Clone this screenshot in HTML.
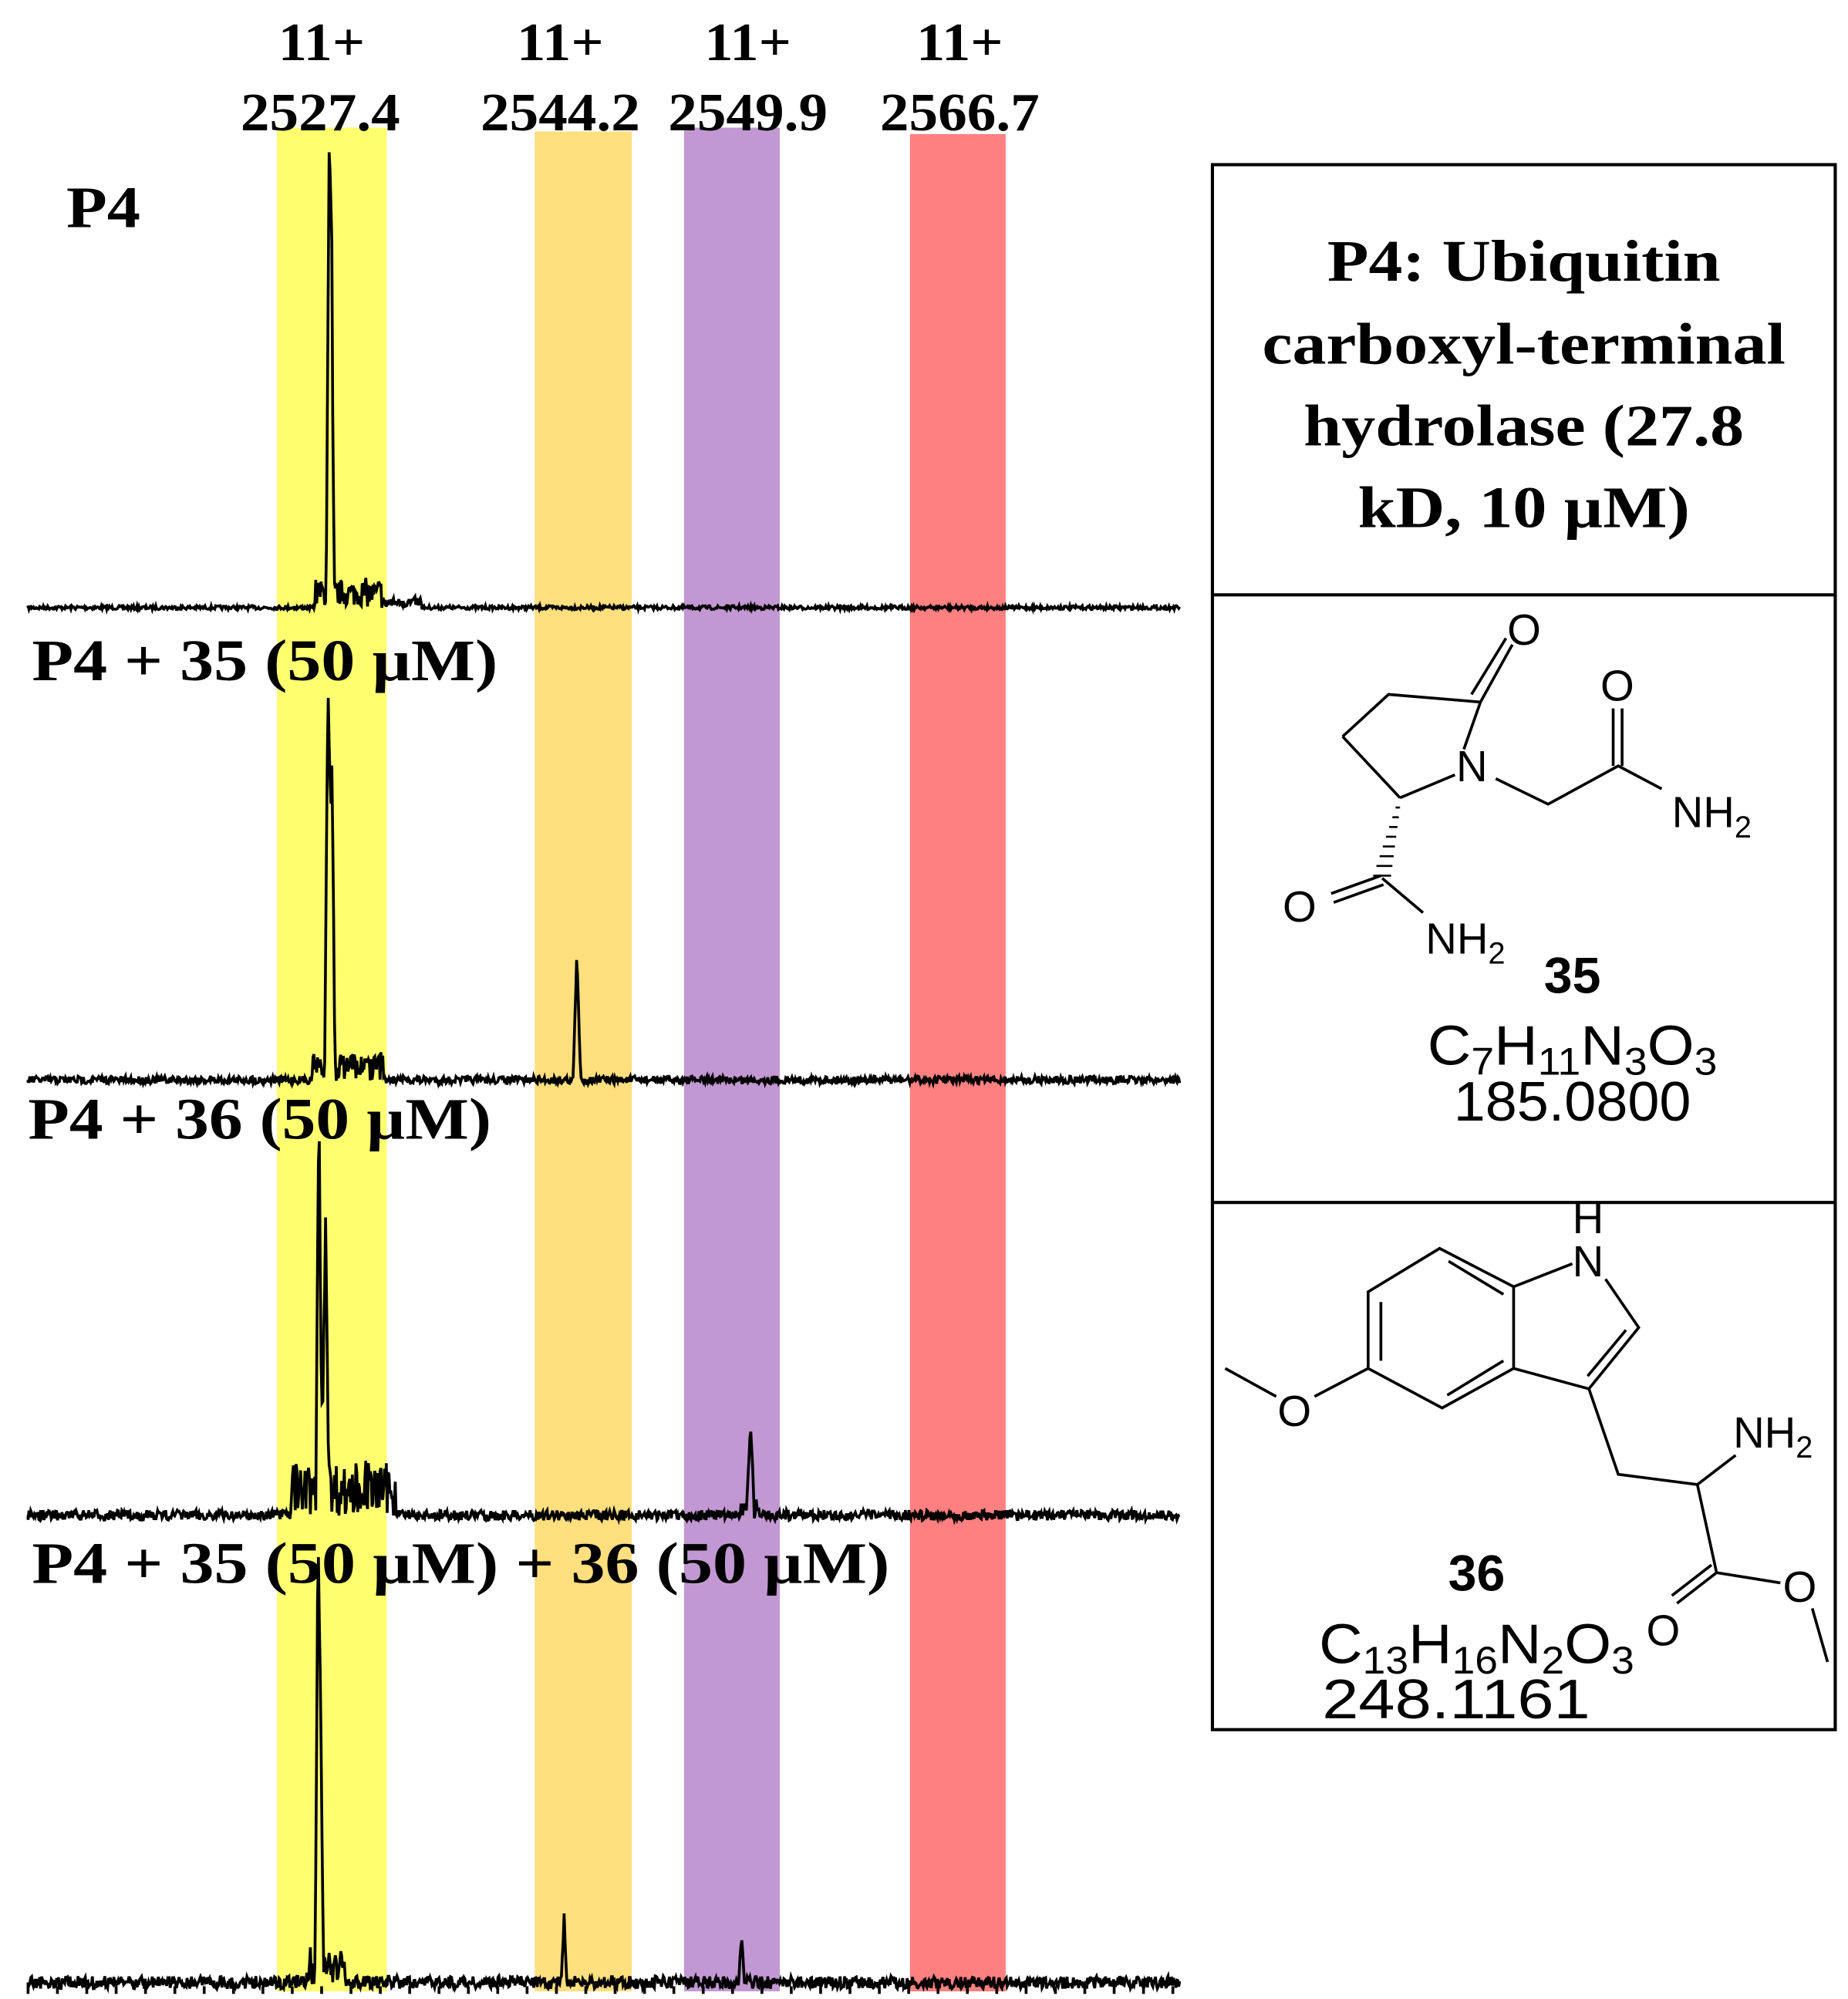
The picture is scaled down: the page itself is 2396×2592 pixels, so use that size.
<!DOCTYPE html>
<html><head><meta charset="utf-8"><style>
html,body{margin:0;padding:0;background:#fff;}
svg{display:block;}
.ax{font-family:"Liberation Serif",serif;font-weight:bold;fill:#000;}
.ch{font-family:"Liberation Sans",sans-serif;fill:#000;}
</style></head><body>
<svg id="s" width="2396" height="2592" viewBox="0 0 1448 1566" preserveAspectRatio="none" xmlns="http://www.w3.org/2000/svg">
<rect x="217" y="100" width="86" height="1460" fill="#ffff70"/>
<rect x="419" y="103" width="76" height="1457" fill="#ffdf7e"/>
<rect x="536" y="100" width="75" height="1460" fill="#c298d2"/>
<rect x="713" y="105" width="75" height="1455" fill="#ff8080"/>
<g class="ax" font-size="42" text-anchor="middle">
<text x="252" y="47" textLength="68" lengthAdjust="spacingAndGlyphs">11+</text><text x="439" y="47" textLength="68" lengthAdjust="spacingAndGlyphs">11+</text><text x="586" y="47" textLength="68" lengthAdjust="spacingAndGlyphs">11+</text><text x="752" y="47" textLength="68" lengthAdjust="spacingAndGlyphs">11+</text>
<text x="251" y="102" textLength="125" lengthAdjust="spacingAndGlyphs">2527.4</text>
<text x="439" y="102" textLength="125" lengthAdjust="spacingAndGlyphs">2544.2</text>
<text x="586" y="102" textLength="125" lengthAdjust="spacingAndGlyphs">2549.9</text>
<text x="752" y="102" textLength="125" lengthAdjust="spacingAndGlyphs">2566.7</text>
</g>
<g id="spec" fill="none" stroke="#000" stroke-width="2.2"></g>
<g class="ax" font-size="46">
<text x="52" y="178" textLength="58" lengthAdjust="spacingAndGlyphs">P4</text>
<text x="25" y="533" textLength="365" lengthAdjust="spacingAndGlyphs">P4 + 35 (50 µM)</text>
<text x="22" y="892" textLength="363" lengthAdjust="spacingAndGlyphs">P4 + 36 (50 µM)</text>
<text x="25" y="1240" textLength="672" lengthAdjust="spacingAndGlyphs">P4 + 35 (50 µM) + 36 (50 µM)</text>
</g>
<g fill="none" stroke="#000" stroke-width="2.5">
<rect x="950" y="129" width="488" height="1226"/>
<line x1="950" y1="466" x2="1438" y2="466"/>
<line x1="950" y1="942" x2="1438" y2="942"/>
</g>
<g class="ax" font-size="46" text-anchor="middle">
<text x="1194" y="220" textLength="308" lengthAdjust="spacingAndGlyphs">P4: Ubiquitin</text>
<text x="1194" y="285" textLength="410" lengthAdjust="spacingAndGlyphs">carboxyl-terminal</text>
<text x="1194" y="349" textLength="345" lengthAdjust="spacingAndGlyphs">hydrolase (27.8</text>
<text x="1194" y="413" textLength="260" lengthAdjust="spacingAndGlyphs">kD, 10 µM)</text>
</g>
<g fill="none" stroke="#000" stroke-width="2.2">
<polyline points="1052,577 1088,544 1160,550"/>
<line x1="1160" y1="550" x2="1147" y2="587"/>
<line x1="1140" y1="607" x2="1097" y2="625"/>
<line x1="1097" y1="625" x2="1052" y2="577"/>
<line x1="1160" y1="550" x2="1185" y2="505"/><line x1="1153" y1="544" x2="1180" y2="500"/>
<polyline points="1172,610 1213,630 1268,600 1302,618"/>
<line x1="1264" y1="600" x2="1264" y2="555"/><line x1="1271" y1="600" x2="1271" y2="555"/>
<line x1="1082" y1="686" x2="1043" y2="700"/><line x1="1084" y1="693" x2="1045" y2="707"/>
<line x1="1083" y1="688" x2="1115" y2="715"/>
</g>
<g stroke="#000" stroke-width="1.6" id="hash"></g>
<g class="ch" font-size="34">
<text x="1181" y="505">O</text>
<text x="1254" y="549">O</text>
<text x="1141" y="612">N</text>
<text x="1310" y="648">NH<tspan font-size="24" dy="8">2</tspan></text>
<text x="1005" y="722">O</text>
<text x="1117" y="747">NH<tspan font-size="24" dy="8">2</tspan></text>
<text x="1232" y="778" text-anchor="middle" font-weight="bold" font-size="40">35</text>
<text x="1232" y="834" text-anchor="middle" font-size="44" textLength="227" lengthAdjust="spacingAndGlyphs">C<tspan font-size="30" dy="8">7</tspan><tspan dy="-8">H</tspan><tspan font-size="30" dy="8">11</tspan><tspan dy="-8">N</tspan><tspan font-size="30" dy="8">3</tspan><tspan dy="-8">O</tspan><tspan font-size="30" dy="8">3</tspan></text>
<text x="1232" y="878" text-anchor="middle" font-size="44" textLength="186" lengthAdjust="spacingAndGlyphs">185.0800</text>
</g>
<g fill="none" stroke="#000" stroke-width="2.2">
<polygon points="1072,1012 1128,978 1186,1008 1186,1072 1130,1103 1072,1072"/>
<line x1="1082" y1="1020" x2="1082" y2="1066"/>
<line x1="1134" y1="1093" x2="1178" y2="1066"/>
<line x1="1135" y1="988" x2="1178" y2="1014"/>
<line x1="1186" y1="1008" x2="1232" y2="990"/>
<polyline points="1258,1002 1284,1040 1245,1088 1186,1072"/>
<line x1="1274" y1="1042" x2="1244" y2="1078"/>
<line x1="1072" y1="1072" x2="1030" y2="1094"/>
<line x1="1000" y1="1094" x2="960" y2="1072"/>
<polyline points="1245,1088 1268,1155 1330,1163 1360,1140"/>
<polyline points="1330,1163 1345,1232 1395,1240"/>
<line x1="1345" y1="1232" x2="1314" y2="1256"/><line x1="1341" y1="1226" x2="1310" y2="1250"/>
<line x1="1420" y1="1260" x2="1432" y2="1302"/>
</g>
<g class="ch" font-size="34">
<text x="1232" y="966">H</text>
<text x="1232" y="1000">N</text>
<text x="1001" y="1117">O</text>
<text x="1358" y="1134">NH<tspan font-size="24" dy="8">2</tspan></text>
<text x="1397" y="1255">O</text>
<text x="1290" y="1289">O</text>
<text x="1157" y="1246" text-anchor="middle" font-weight="bold" font-size="40">36</text>
<text x="1157" y="1303" text-anchor="middle" font-size="44" textLength="247" lengthAdjust="spacingAndGlyphs">C<tspan font-size="30" dy="8">13</tspan><tspan dy="-8">H</tspan><tspan font-size="30" dy="8">16</tspan><tspan dy="-8">N</tspan><tspan font-size="30" dy="8">2</tspan><tspan dy="-8">O</tspan><tspan font-size="30" dy="8">3</tspan></text>
<text x="1141" y="1346" text-anchor="middle" font-size="44" textLength="210" lengthAdjust="spacingAndGlyphs">248.1161</text>
</g>
</svg>
<script>
var seed=7;function r(){seed=(seed*16807)%2147483647;return seed/2147483647;}
var NS="http://www.w3.org/2000/svg",g=document.getElementById('spec');
function spec(base,amp,peaks,clusters){
  var d="M22,"+base;
  for(var x=22;x<=925;x+=0.7){
    var y=base+(r()-0.5)*amp*2;
    for(var i=0;i<peaks.length;i++){var p=peaks[i];var dx=Math.abs(x-p[0]);if(dx<p[2]) y-=p[1]*(1-dx/p[2]);}
    for(var j=0;j<clusters.length;j++){var c=clusters[j];if(x>c[0]&&x<c[1]) y-=r()*c[2];}
    d+=" L"+x.toFixed(1)+","+y.toFixed(1);
  }
  var p=document.createElementNS(NS,'path');p.setAttribute('d',d);g.appendChild(p);
}
spec(476,1.5,[[258,350,2.5],[260,200,2]],[[246,300,22],[300,330,8]]);
spec(846,3,[[257,320,2.5],[260,240,2.5],[452,98,3]],[[244,300,22]]);
spec(1187,4,[[250,305,2.5],[255,220,3],[588,66,3]],[[228,310,40],[580,595,12]]);
spec(1553,5,[[249,305,2],[251,220,2.5],[442,52,2],[581,42,2]],[[240,270,25]]);
var t="";for(var x=22;x<925;x+=23){t+="M"+x+",1556 L"+x+",1562 ";}
var tp=document.createElementNS(NS,'path');tp.setAttribute('d',t);g.appendChild(tp);
var h=document.getElementById('hash'),hs="";
for(var k=1;k<=8;k++){var f=k/8;var cx=1097+(1083-1097)*f,cy=625+(686-625)*f,w=1+f*6;hs+="M"+(cx-w)+","+cy+" L"+(cx+w)+","+cy+" ";}
var hp=document.createElementNS(NS,'path');hp.setAttribute('d',hs);h.appendChild(hp);
</script>
</body></html>
